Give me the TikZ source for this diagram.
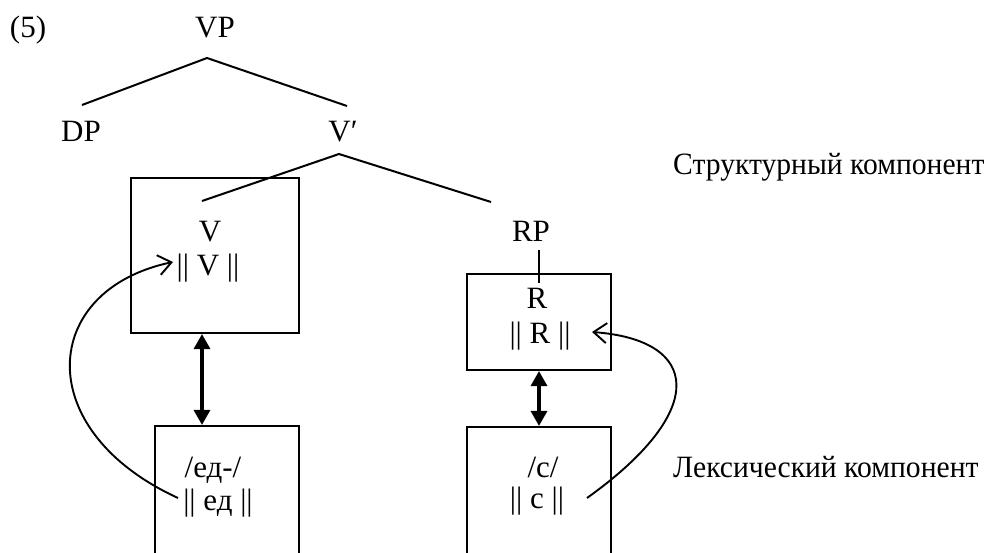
\documentclass[tikz,border=0pt]{standalone}
\usepackage{fontspec}
\setmainfont{Liberation Serif}
\newfontfamily\narrowserif[FakeStretch=0.955]{Liberation Serif}
\usetikzlibrary{arrows.meta}
\begin{document}
\begin{tikzpicture}[x=1pt,y=-1pt,
  txt/.style={anchor=base,inner sep=0pt,font=\fontsize{31}{36}\selectfont},
  lbl/.style={anchor=base west,inner sep=0pt,font=\narrowserif\fontsize{31}{36}\selectfont},
  branch/.style={line width=2pt},
  boxnode/.style={draw,line width=2.1pt,inner sep=0pt},
  dbl/.style={line width=3.3pt,{Triangle[length=15pt,width=16pt]}-{Triangle[length=15pt,width=16pt]}},
  curv/.style={line width=1.9pt,-{Straight Barb[length=13pt,width=20pt,line width=1.9pt]}}]
\useasboundingbox (0,0) rectangle (987,553);
\clip (0,0) rectangle (987,553);
\fill[white] (0,0) rectangle (987,553);
% boxes
\node[boxnode,minimum width=168pt,minimum height=155pt] (boxV) at (215,255.5) {};
\node[boxnode,minimum width=144pt,minimum height=160pt] (boxEd) at (227,506) {};
\node[boxnode,minimum width=144pt,minimum height=96pt] (boxR) at (539,322) {};
\node[boxnode,minimum width=144pt,minimum height=160pt] (boxS) at (539,507) {};
% texts
\node[txt] (ex) at (28,38) {(5)};
\node[txt] (VP) at (215,38) {VP};
\node[txt] (DP) at (81,142) {DP};
\node[txt] (Vbar) at (343,142) {V′};
\node[txt] (V) at (210,242) {V};
\node[txt] (VV) at (208,275) {|| V ||};
\node[txt] (RP) at (531,242) {RP};
\node[txt] (R) at (537,308) {R};
\node[txt] (RR) at (540,343) {|| R ||};
\node[txt] (ed) at (213,477) {/ед-/};
\node[txt] (eded) at (218,510) {|| ед ||};
\node[txt] (s) at (543,477) {/с/};
\node[txt] (ss) at (537,508) {|| с ||};
\node[lbl] (struct) at (673,175) {Структурный компонент};
\node[lbl] (lex) at (673,477) {Лексический компонент};
% tree branches
\coordinate (vpA) at (207,58);
\coordinate (dpT) at (82,105);
\coordinate (vbT) at (347,106);
\coordinate (vbA) at (339,154);
\coordinate (vT) at (202,201);
\coordinate (rpT) at (491,202);
\draw[branch] (dpT) -- (vpA) -- (vbT);
\draw[branch] (vT) -- (vbA) -- (rpT);
\draw[branch] (539,250) -- (539,283);
% double arrows
\draw[dbl] ([xshift=-13pt]boxV.south) -- ([xshift=-13pt]boxV.south |- boxEd.north);
\draw[dbl] (boxR.south) -- (boxR.south |- boxS.north);
% curved arrows
\draw[curv] (178,498) .. controls (30,430) and (40,290) .. (173,262);
\draw[curv] (587,498) .. controls (710,410) and (700,340) .. (592,332);
\end{tikzpicture}
\end{document}
